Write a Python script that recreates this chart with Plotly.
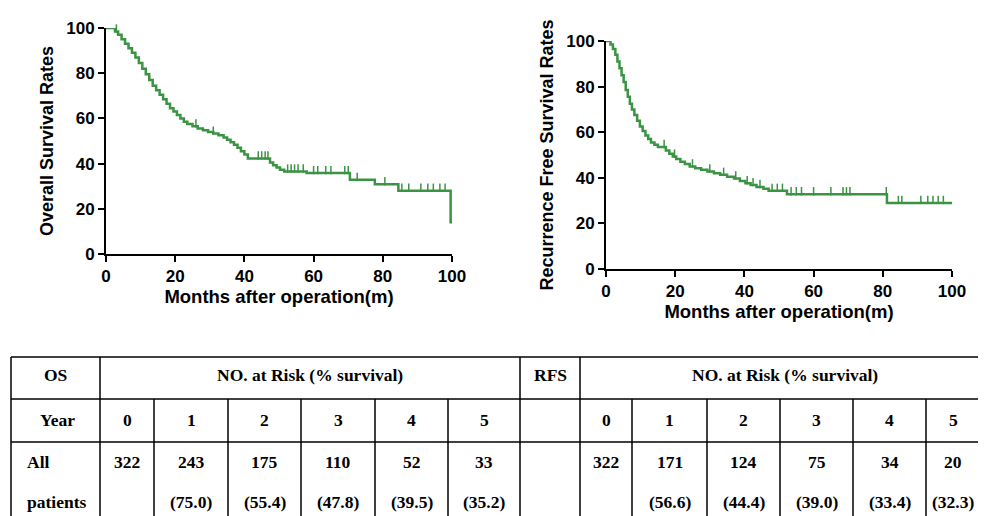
import numpy as np
import plotly.graph_objects as go

# ---------------- data ----------------
os_t = [0, 2.6, 3.5, 4.5, 5.5, 6.5, 7.5, 8.5, 9.5, 10.5, 11.5, 12.5, 13.5, 14.5, 15.5, 16.5,
        17.5, 18.5, 19.5, 20.5, 21.5, 22.5, 23.5, 25, 26.5, 28, 29.5, 31, 32.5, 34, 35, 36,
        37, 38, 39, 40, 41, 47.4, 48.3, 49.3, 50.3, 51.5, 58, 70.5, 77.7, 84.5, 99.6, 100]
os_s = [100, 98.5, 97, 95, 93, 91, 89, 87, 84.5, 82, 79.5, 77, 74.5, 72.5, 70.5, 68.5,
        66.5, 64.5, 63, 61.5, 60, 58.5, 57.5, 56.5, 55.5, 54.8, 54, 53.3, 52.5, 51.5, 50.5, 49.5,
        48.3, 47, 45.5, 44, 42.3, 40.5, 39.3, 38.3, 37.3, 36.5, 35.8, 32.8, 30.9, 28, 14, 14]
os_censor_t = [3.0, 26, 31, 44, 45, 46, 46.8, 52.5, 53.5, 54.5, 55.5, 57, 60, 61.2, 63.5, 65,
               69, 70, 72.6, 80.6, 85.5, 87.5, 91, 93, 94.6, 96.5, 98]

rfs_t = [0, 1.3, 2.0, 2.7, 3.3, 3.9, 4.5, 5.1, 5.7, 6.3, 6.9, 7.5, 8.2, 9.0, 9.8, 10.6, 11.4,
         12.2, 13.0, 14.0, 15.0, 17.3, 18.3, 19.3, 20.3, 21.5, 22.8, 24.2, 25.8, 27.5, 29.3,
         31.2, 33.0, 35.0, 37.0, 38.7, 40.3, 41.8, 43.5, 45.5, 47.0, 52.3, 81.2, 100]
rfs_s = [100, 98.5, 96.5, 94, 91, 88, 85, 82, 78.5, 75.5, 72.5, 70, 67.5, 65, 62.5, 60.5, 58.5,
         57, 55.5, 54.5, 53.5, 52, 50.5, 49.3, 48.3, 47, 46, 45, 44.2, 43.5, 42.8,
         42, 41.3, 40.5, 39.7, 38.6, 37.6, 36.8, 36, 35.2, 34.3, 32.8, 29.0, 29.0]
rfs_censor_t = [1.0, 16.8, 19.8, 25, 30, 34, 37.5, 40.8, 42.5, 44.5, 48, 49.5, 51, 53.5, 55,
                56.5, 60, 65, 68.5, 69.5, 70.5, 81.0, 84.5, 85.5, 91, 93, 94.5, 96, 97.5]

years = ["0", "1", "2", "3", "4", "5"]
os_at_risk = ["322", "243", "175", "110", "52", "33"]
os_pct = ["", "(75.0)", "(55.4)", "(47.8)", "(39.5)", "(35.2)"]
rfs_at_risk = ["322", "171", "124", "75", "34", "20"]
rfs_pct = ["", "(56.6)", "(44.4)", "(39.0)", "(33.4)", "(32.3)"]

# ---------------- figure ----------------
# the page body adds an 8px margin, so the figure starts at (8, 8) in the window
OFF = 8
W, H = 986 - 2 * OFF, 516 - OFF
GREEN = "#3a9443"


def px(x):
    return (x - OFF) / W


def py(y):
    return 1 - (y - OFF) / H


def step_value(ts, ss, t):
    i = np.searchsorted(np.array(ts), t, side="right") - 1
    return ss[max(i, 0)]


fig = go.Figure()

for (ts, ss, cens, xa, ya) in [(os_t, os_s, os_censor_t, "x", "y"),
                               (rfs_t, rfs_s, rfs_censor_t, "x2", "y2")]:
    fig.add_trace(go.Scatter(x=ts, y=ss, mode="lines", line=dict(color=GREEN, width=2.5, shape="hv"),
                             xaxis=xa, yaxis=ya, showlegend=False, cliponaxis=False,
                             hoverinfo="skip"))
    cy = [step_value(ts, ss, c) + 1.3 for c in cens]
    fig.add_trace(go.Scatter(x=cens, y=cy, mode="markers",
                             marker=dict(symbol="line-ns", size=6, line=dict(color=GREEN, width=1.5)),
                             xaxis=xa, yaxis=ya, showlegend=False, cliponaxis=False,
                             hoverinfo="skip"))

tickfont = dict(family="Liberation Sans, Arial", size=17, color="black", weight="bold")
xtitlefont = dict(family="Liberation Sans, Arial", size=18.5, color="black", weight="bold")
ytitlefont = dict(family="Liberation Sans, Arial", size=18, color="black", weight="bold")
axis_common = dict(range=[0, 100], tickvals=[0, 20, 40, 60, 80, 100], showline=True,
                   linecolor="black", linewidth=2, ticks="outside", ticklen=6, tickwidth=2,
                   tickcolor="black", showgrid=False, zeroline=False, tickfont=tickfont,
                   fixedrange=True, automargin=False)

fig.update_layout(
    width=W, height=H, margin=dict(l=0, r=0, t=0, b=0, pad=0, autoexpand=False),
    paper_bgcolor="white", plot_bgcolor="rgba(0,0,0,0)",
    xaxis=dict(domain=[px(106), px(452)], anchor="y",
               title=dict(text="Months after operation(m)", font=xtitlefont, standoff=5),
               **axis_common),
    yaxis=dict(domain=[py(254), py(28)], anchor="x",
               title=dict(text="Overall Survival Rates", font=ytitlefont, standoff=8),
               **axis_common),
    xaxis2=dict(domain=[px(606), px(952)], anchor="y2",
                title=dict(text="Months after operation(m)", font=xtitlefont, standoff=5),
                **axis_common),
    yaxis2=dict(domain=[py(269), py(41)], anchor="x2",
                title=dict(text="Recurrence Free Survival Rates", font=ytitlefont, standoff=8),
                **axis_common),
)

# ---------------- table ----------------
LINE = dict(color="black", width=1.5)
shapes = []
x_right = 978
y_top, y_r1, y_r2, y_bot = 357, 399, 442, 530
for yy in (y_top, y_r1, y_r2):
    shapes.append(dict(type="line", xref="paper", yref="paper", x0=px(11), x1=px(x_right),
                       y0=py(yy), y1=py(yy), line=LINE))

os_cols = [100, 154, 228, 301, 375, 448, 520]
rfs_cols = [580, 632, 707, 780, 853, 926, 980]

for xx in [11, 100, 520, 580]:
    shapes.append(dict(type="line", xref="paper", yref="paper", x0=px(xx), x1=px(xx),
                       y0=py(y_top), y1=py(y_bot), line=LINE))
for xx in os_cols[1:-1] + rfs_cols[1:-1]:
    shapes.append(dict(type="line", xref="paper", yref="paper", x0=px(xx), x1=px(xx),
                       y0=py(y_r1), y1=py(y_bot), line=LINE))

fig.update_layout(shapes=shapes)

tfont = dict(family="Liberation Serif, Times New Roman", size=17.5, color="black", weight="bold")
annos = []


def txt(x, y, s, xanchor="center"):
    annos.append(dict(x=px(x), y=py(y), xref="paper", yref="paper", text=s, showarrow=False,
                      font=tfont, xanchor=xanchor, yanchor="middle"))


txt(55.5, 375, "OS")
txt(310, 375, "NO. at Risk (% survival)")
txt(550, 375, "RFS")
txt(785, 375, "NO. at Risk (% survival)")
txt(57, 420, "Year")
txt(25, 462, "All", "left")
txt(25, 502, "patients", "left")

for cols, risk, pct in [(os_cols, os_at_risk, os_pct), (rfs_cols, rfs_at_risk, rfs_pct)]:
    for i in range(6):
        cx = (cols[i] + cols[i + 1]) / 2
        txt(cx, 420, years[i])
        txt(cx, 462, risk[i])
        if pct[i]:
            txt(cx, 502, pct[i])

fig.update_layout(annotations=annos)

fig.write_html("out.html")
